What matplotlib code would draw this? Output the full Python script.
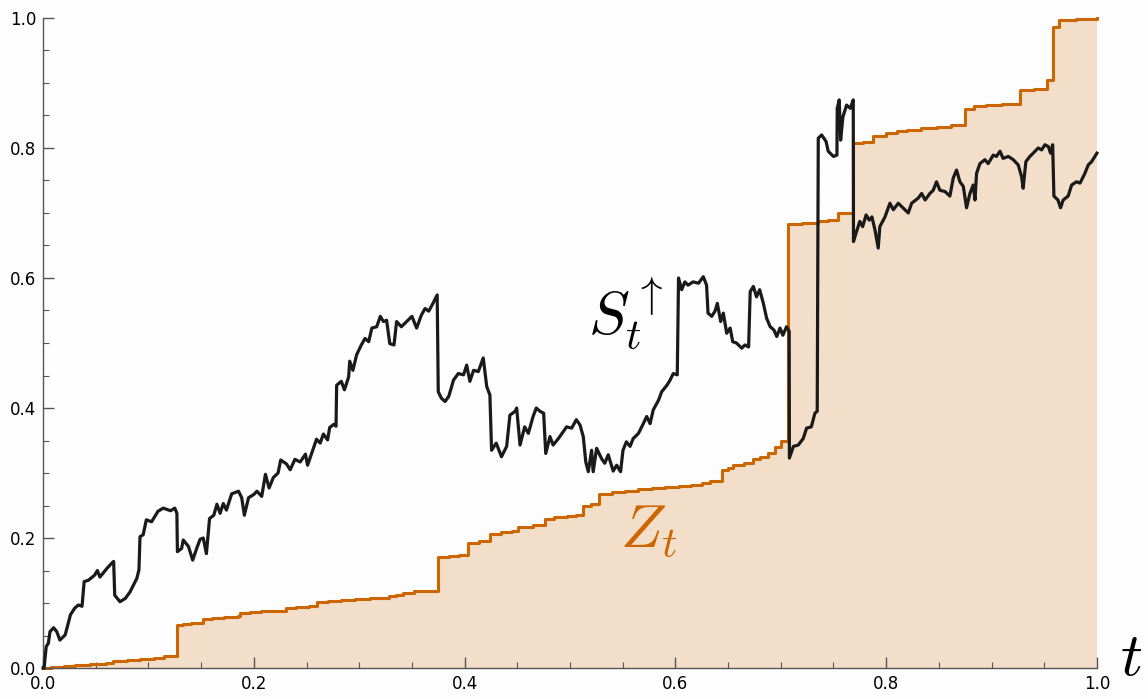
import matplotlib
matplotlib.use('Agg')
from matplotlib import pyplot as plt
from matplotlib.ticker import MultipleLocator

plt.rcParams['mathtext.fontset'] = 'cm'
plt.rcParams['font.family'] = ['DejaVu Sans']

# S_t (black path)
s_t = [0.0, 0.001, 0.003, 0.005, 0.0066, 0.010, 0.013, 0.016, 0.021, 0.026, 0.030, 0.0335, 0.037, 0.039,
       0.043, 0.049, 0.0515, 0.054, 0.057, 0.0605, 0.065, 0.067, 0.068, 0.073, 0.078, 0.0825, 0.089, 0.091,
       0.092, 0.095, 0.098, 0.103, 0.106, 0.109, 0.114, 0.121, 0.125, 0.127, 0.1275, 0.1315, 0.133, 0.138,
       0.142, 0.146, 0.149, 0.152, 0.155, 0.158, 0.162, 0.165, 0.168, 0.171, 0.174, 0.179, 0.1855, 0.1885,
       0.191, 0.195, 0.2, 0.203, 0.2075, 0.211, 0.2145, 0.2185, 0.223, 0.2255, 0.231, 0.2345, 0.239, 0.244,
       0.249, 0.251, 0.2565, 0.2595, 0.263, 0.266, 0.270, 0.272, 0.276, 0.278, 0.2786, 0.283, 0.286, 0.290,
       0.291, 0.294, 0.2976, 0.302, 0.3055, 0.309, 0.312, 0.3166, 0.320, 0.323, 0.326, 0.329, 0.333, 0.3355,
       0.340, 0.345, 0.350, 0.3545, 0.359, 0.3625, 0.366, 0.370, 0.374, 0.375, 0.378, 0.3815, 0.385, 0.3895,
       0.394, 0.399, 0.402, 0.405, 0.4085, 0.413, 0.4177, 0.421, 0.424, 0.4256, 0.430, 0.435, 0.4399, 0.443,
       0.448, 0.4494, 0.4526, 0.457, 0.4605, 0.465, 0.468, 0.4715, 0.475, 0.477, 0.481, 0.484, 0.489, 0.4937,
       0.4968, 0.5016, 0.506, 0.5095, 0.5126, 0.515, 0.5174, 0.5205, 0.522, 0.5253, 0.530, 0.533, 0.5363,
       0.541, 0.5443, 0.548, 0.5503, 0.5535, 0.557, 0.560, 0.565, 0.5696, 0.5728, 0.576, 0.579, 0.584, 0.587,
       0.592, 0.595, 0.598, 0.6018, 0.603, 0.606, 0.609, 0.612, 0.6168, 0.622, 0.6265, 0.6296, 0.631, 0.6345,
       0.6376, 0.6398, 0.643, 0.6455, 0.6487, 0.652, 0.6544, 0.658, 0.663, 0.666, 0.6695, 0.671, 0.674, 0.677,
       0.680, 0.6835, 0.6866, 0.690, 0.6935, 0.6962, 0.6993, 0.702, 0.7055, 0.708, 0.7082, 0.712, 0.7166,
       0.7213, 0.7245, 0.729, 0.7324, 0.7346, 0.7356, 0.7388, 0.743, 0.745, 0.75, 0.7533, 0.7536, 0.7555,
       0.7568, 0.759, 0.7625, 0.766, 0.7688, 0.769, 0.7714, 0.775, 0.7777, 0.781, 0.784, 0.7865, 0.7894,
       0.7925, 0.794, 0.7989, 0.8036, 0.8068, 0.8115, 0.816, 0.821, 0.8242, 0.8305, 0.8337, 0.837, 0.8415,
       0.8447, 0.8478, 0.851, 0.8558, 0.8605, 0.8637, 0.8668, 0.870, 0.8732, 0.8763, 0.8795, 0.8826, 0.8843,
       0.8858, 0.889, 0.8937, 0.8968, 0.9016, 0.9047, 0.908, 0.911, 0.916, 0.9206, 0.9253, 0.9285, 0.930,
       0.9326, 0.9364, 0.9395, 0.9443, 0.9475, 0.9507, 0.954, 0.956, 0.958, 0.9592, 0.963, 0.9655, 0.968,
       0.9727, 0.976, 0.9807, 0.984, 0.9886, 0.9918, 0.995, 1.0]
s_val = [0.0, 0.0, 0.033, 0.038, 0.056, 0.062, 0.056, 0.043, 0.051, 0.082, 0.092, 0.097, 0.095, 0.133,
         0.135, 0.143, 0.150, 0.140, 0.146, 0.153, 0.161, 0.164, 0.112, 0.102, 0.107, 0.117, 0.138, 0.151,
         0.202, 0.205, 0.228, 0.225, 0.233, 0.241, 0.246, 0.242, 0.246, 0.238, 0.179, 0.184, 0.197, 0.187,
         0.166, 0.185, 0.198, 0.200, 0.176, 0.230, 0.235, 0.252, 0.238, 0.253, 0.243, 0.268, 0.272, 0.262,
         0.235, 0.262, 0.267, 0.272, 0.264, 0.298, 0.277, 0.293, 0.300, 0.320, 0.314, 0.305, 0.321, 0.317,
         0.329, 0.312, 0.338, 0.352, 0.346, 0.360, 0.351, 0.370, 0.375, 0.372, 0.435, 0.441, 0.428, 0.448,
         0.472, 0.458, 0.482, 0.497, 0.507, 0.502, 0.523, 0.525, 0.541, 0.533, 0.535, 0.499, 0.497, 0.533,
         0.525, 0.533, 0.541, 0.523, 0.543, 0.553, 0.549, 0.561, 0.574, 0.425, 0.415, 0.410, 0.418, 0.443,
         0.453, 0.451, 0.466, 0.441, 0.458, 0.456, 0.477, 0.433, 0.420, 0.335, 0.346, 0.325, 0.341, 0.389,
         0.395, 0.400, 0.343, 0.371, 0.361, 0.387, 0.400, 0.395, 0.392, 0.330, 0.356, 0.343, 0.353, 0.364,
         0.371, 0.369, 0.382, 0.374, 0.356, 0.317, 0.302, 0.335, 0.302, 0.338, 0.322, 0.315, 0.328,
         0.303, 0.312, 0.302, 0.335, 0.348, 0.341, 0.353, 0.361, 0.376, 0.387, 0.376, 0.397, 0.412, 0.425,
         0.435, 0.443, 0.453, 0.451, 0.600, 0.582, 0.594, 0.589, 0.594, 0.592, 0.602, 0.589, 0.546, 0.541,
         0.549, 0.561, 0.533, 0.546, 0.515, 0.523, 0.502, 0.500, 0.492, 0.497, 0.494, 0.579, 0.587, 0.571,
         0.582, 0.561, 0.538, 0.525, 0.520, 0.510, 0.523, 0.512, 0.525, 0.518, 0.323, 0.341, 0.343,
         0.353, 0.369, 0.371, 0.392, 0.395, 0.815, 0.820, 0.810, 0.795, 0.787, 0.789, 0.861, 0.874,
         0.812, 0.848, 0.866, 0.861, 0.874, 0.656, 0.669, 0.687, 0.679, 0.697, 0.689, 0.694, 0.674,
         0.646, 0.679, 0.694, 0.715, 0.705, 0.715, 0.708, 0.700, 0.715, 0.723, 0.730, 0.720, 0.730,
         0.735, 0.748, 0.735, 0.733, 0.726, 0.754, 0.766, 0.748, 0.741, 0.708, 0.730, 0.743, 0.720,
         0.761, 0.776, 0.782, 0.776, 0.789, 0.787, 0.795, 0.784, 0.787, 0.782, 0.774, 0.756, 0.738,
         0.779, 0.787, 0.792, 0.800, 0.797, 0.805, 0.802, 0.792, 0.805, 0.726, 0.720, 0.708, 0.720,
         0.726, 0.743, 0.748, 0.746, 0.761, 0.774, 0.779, 0.792]

# Z_t (orange step path): jump times and value after each jump
z_t = [0.0, 0.008, 0.02, 0.03, 0.045, 0.06, 0.066, 0.08, 0.092, 0.105, 0.115, 0.127, 0.133, 0.14, 0.152,
       0.16, 0.172, 0.185, 0.187, 0.196, 0.207, 0.218, 0.231, 0.24, 0.252, 0.26, 0.27, 0.283, 0.296, 0.31,
       0.322, 0.328, 0.335, 0.342, 0.352, 0.362, 0.375, 0.385, 0.395, 0.4035, 0.414, 0.424, 0.435, 0.445,
       0.451, 0.465, 0.476, 0.485, 0.497, 0.506, 0.512, 0.52, 0.528, 0.54, 0.552, 0.565, 0.578, 0.59, 0.603,
       0.615, 0.625, 0.633, 0.644, 0.65, 0.655, 0.665, 0.674, 0.68, 0.688, 0.695, 0.700, 0.7065, 0.72, 0.735,
       0.745, 0.754, 0.769, 0.778, 0.788, 0.800, 0.81, 0.82, 0.833, 0.848, 0.862, 0.875, 0.883, 0.895, 0.91,
       0.927, 0.94, 0.953, 0.958, 0.964, 0.98, 1.0]
z_val = [0.0, 0.001, 0.003, 0.004, 0.006, 0.008, 0.011, 0.012, 0.014, 0.016, 0.018, 0.066, 0.067, 0.069,
         0.076, 0.077, 0.078, 0.080, 0.085, 0.086, 0.087, 0.088, 0.092, 0.094, 0.096, 0.101, 0.103, 0.105,
         0.106, 0.107, 0.108, 0.111, 0.113, 0.116, 0.118, 0.119, 0.171, 0.172, 0.174, 0.193, 0.195, 0.206,
         0.209, 0.211, 0.217, 0.220, 0.229, 0.232, 0.234, 0.236, 0.250, 0.252, 0.268, 0.271, 0.273, 0.275,
         0.277, 0.278, 0.280, 0.282, 0.285, 0.288, 0.304, 0.307, 0.313, 0.316, 0.322, 0.325, 0.331, 0.340,
         0.350, 0.683, 0.685, 0.687, 0.689, 0.700, 0.807, 0.809, 0.819, 0.823, 0.826, 0.828, 0.830, 0.832,
         0.835, 0.860, 0.864, 0.866, 0.867, 0.889, 0.891, 0.905, 0.986, 0.997, 0.999, 1.0]

orange = '#cc6600'

fig = plt.figure(figsize=(11.48, 6.99), dpi=100, facecolor='#fdfdfd')
ax = fig.add_axes([0.0375, 0.0443, 0.918, 0.930])
ax.set_facecolor('#fdfdfd')

ax.fill_between(z_t, z_val, 0, step='post', color=orange, alpha=0.2, lw=0)
ax.step(z_t, z_val, where='post', color=orange, lw=2.2, clip_on=False)
ax.plot(s_t, s_val, color='#1a1a1a', lw=2.3, clip_on=False, zorder=3)

ax.text(0.553, 0.545, r'$S_t^{\uparrow}$', fontsize=44, ha='center', va='center')
ax.text(0.575, 0.212, r'$Z_t$', fontsize=44, ha='center', va='center', color=orange)
fig.text(0.985, 0.058, r'$t$', fontsize=44, ha='center', va='center')

ax.set_xlim(0, 1)
ax.set_ylim(0, 1)
for s in ['top', 'right']:
    ax.spines[s].set_visible(False)
for s in ['left', 'bottom']:
    ax.spines[s].set_color('#555555')
    ax.spines[s].set_linewidth(1.0)

ax.xaxis.set_major_locator(MultipleLocator(0.2))
ax.xaxis.set_minor_locator(MultipleLocator(0.05))
ax.yaxis.set_major_locator(MultipleLocator(0.2))
ax.yaxis.set_minor_locator(MultipleLocator(0.05))
ax.set_xticklabels(['{:.1f}'.format(v) for v in ax.get_xticks()])
ax.set_yticklabels(['{:.1f}'.format(v) for v in ax.get_yticks()])
ax.tick_params(which='major', direction='in', length=8, width=1, color='#555555', labelsize=12, pad=5)
ax.tick_params(which='minor', direction='in', length=4, width=0.8, color='#555555')

plt.savefig('out.png', dpi=100, facecolor=fig.get_facecolor())
